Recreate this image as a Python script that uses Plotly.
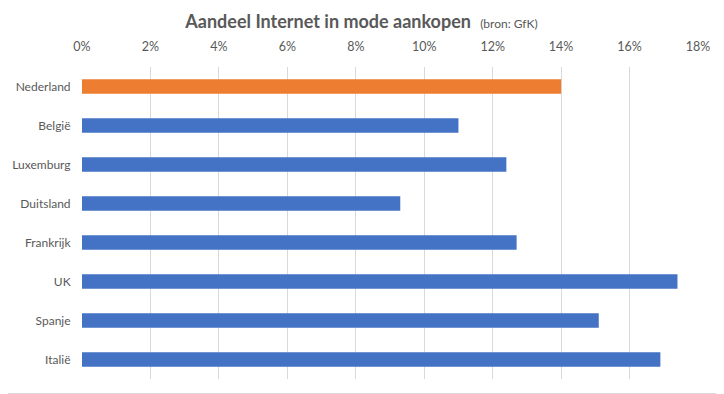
import plotly.graph_objects as go

countries = ["Nederland", "België", "Luxemburg", "Duitsland", "Frankrijk", "UK", "Spanje", "Italië"]
shares = [0.140, 0.110, 0.124, 0.093, 0.127, 0.174, 0.151, 0.169]
bar_colors = ["#ED7D31"] + ["#4472C4"] * 7
tick_vals = [0, 0.02, 0.04, 0.06, 0.08, 0.10, 0.12, 0.14, 0.16, 0.18]
tick_text = ["0%", "2%", "4%", "6%", "8%", "10%", "12%", "14%", "16%", "18%"]

# page body has an 8px margin, so the figure is offset by 8px
OFF = 8
W, H = 724 - OFF, 394 - OFF
L, R, T, B = 82 - OFF, 26, 67 - OFF, 15
pw, ph = W - L - R, H - T - B

FONT = "Lato, Open Sans, sans-serif"

fig = go.Figure(go.Bar(
    x=shares, y=countries, orientation="h",
    marker=dict(color=bar_colors, line=dict(width=0)),
    width=0.37,
))

fig.update_layout(
    width=W, height=H,
    margin=dict(l=L, r=R, t=T, b=B, autoexpand=False),
    paper_bgcolor="white", plot_bgcolor="white",
    font=dict(family=FONT, color="#595959", size=12),
    showlegend=False,
    title=dict(
        text="<b>Aandeel Internet in mode aankopen</b>  <span style='font-size:12px'>(bron: GfK)</span>",
        x=(361.5 - OFF) / W, xanchor="center", y=1 - (22 - OFF) / H, yanchor="middle",
        font=dict(family=FONT, size=18, color="#595959"),
        automargin=False,
    ),
    xaxis=dict(
        side="top", range=[0, 0.18], tickvals=tick_vals, ticktext=tick_text,
        showgrid=True, gridcolor="#D9D9D9", gridwidth=1, zeroline=False,
        showline=False, ticks="outside", ticklen=10, tickcolor="rgba(0,0,0,0)",
        tickfont=dict(family=FONT, size=12.5, color="#595959"), automargin=False,
    ),
    yaxis=dict(
        autorange="reversed", showgrid=False, zeroline=False, showline=False,
        ticks="outside", ticklen=8, tickcolor="rgba(0,0,0,0)",
        tickfont=dict(family=FONT, size=12, color="#595959"), automargin=False,
    ),
    shapes=[
        dict(type="line", xref="paper", yref="paper",
             x0=1 + (R - 0.5) / pw, x1=1 + (R - 0.5) / pw, y0=(-B) / ph, y1=1 + T / ph,
             line=dict(color="#D9D9D9", width=1), layer="above"),
        dict(type="line", xref="paper", yref="paper",
             x0=-L / pw, x1=1 + R / pw, y0=(-B + 0.5) / ph, y1=(-B + 0.5) / ph,
             line=dict(color="#D9D9D9", width=1), layer="above"),
    ],
)

fig.write_html("out.html")
